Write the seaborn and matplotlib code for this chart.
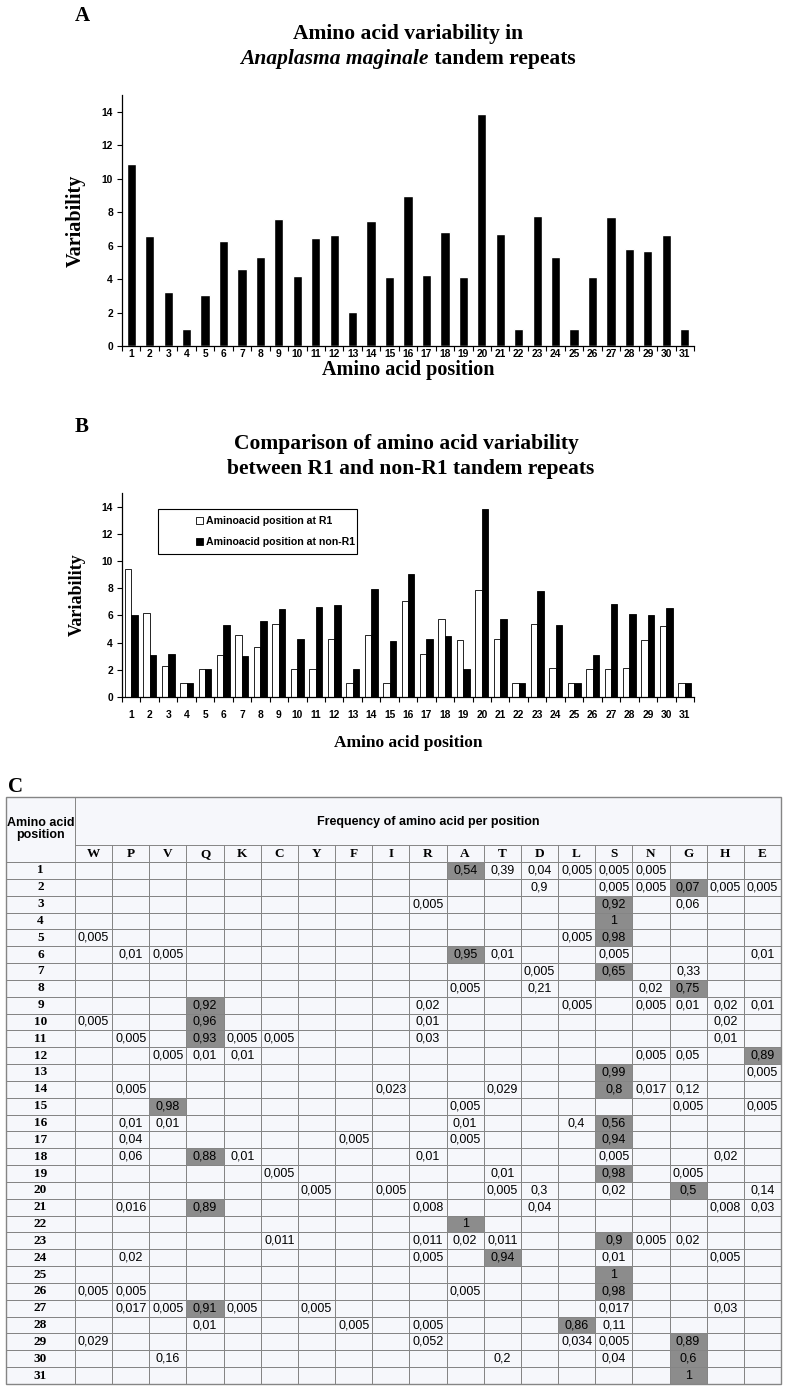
# Amino acid variability in tandem repeats - figure with panels A, B, C

import numpy as np
import pandas as pd
import matplotlib
matplotlib.use("Agg")
import matplotlib.pyplot as plt
import seaborn as sns
from matplotlib.colors import ListedColormap
from matplotlib.patches import Rectangle, Patch


# DATA

positions = list(range(1, 32))

# Panel A - variability over all repeats
variability_all = [
    10.9, 6.6, 3.25, 1.0, 3.05, 6.3, 4.6, 5.3, 7.6, 4.2,
    6.45, 6.65, 2.05, 7.5, 4.1, 8.95, 4.25, 6.8, 4.1, 13.85,
    6.7, 1.0, 7.75, 5.3, 1.0, 4.1, 7.7, 5.8, 5.7, 6.65, 1.0
]

# Panel B - R1 vs non-R1
variability_r1 = [
    9.4, 6.2, 2.25, 1.0, 2.05, 3.1, 4.55, 3.65, 5.4, 2.05,
    2.05, 4.3, 1.0, 4.55, 1.0, 7.05, 3.15, 5.75, 4.2, 7.85,
    4.25, 1.0, 5.4, 2.1, 1.0, 2.05, 2.05, 2.15, 4.2, 5.2, 1.0
]
variability_non_r1 = [
    6.05, 3.1, 3.15, 1.0, 2.05, 5.3, 3.05, 5.6, 6.5, 4.25,
    6.6, 6.8, 2.05, 7.95, 4.15, 9.05, 4.3, 4.45, 2.05, 13.85,
    5.75, 1.0, 7.8, 5.3, 1.0, 3.1, 6.85, 6.1, 6.05, 6.55, 1.0
]
series_labels = ["Aminoacid position at R1", "Aminoacid position at non-R1"]

# Panel C - frequency table
amino_acids = ["W", "P", "V", "Q", "K", "C", "Y", "F", "I", "R",
               "A", "T", "D", "L", "S", "N", "G", "H", "E"]

freq_by_position = [
    {"A": "0,54", "T": "0,39", "D": "0,04", "L": "0,005", "S": "0,005", "N": "0,005"},
    {"D": "0,9", "S": "0,005", "N": "0,005", "G": "0,07", "H": "0,005", "E": "0,005"},
    {"R": "0,005", "S": "0,92", "G": "0,06"},
    {"S": "1"},
    {"W": "0,005", "L": "0,005", "S": "0,98"},
    {"P": "0,01", "V": "0,005", "A": "0,95", "T": "0,01", "S": "0,005", "E": "0,01"},
    {"D": "0,005", "S": "0,65", "G": "0,33"},
    {"A": "0,005", "D": "0,21", "N": "0,02", "G": "0,75"},
    {"Q": "0,92", "R": "0,02", "L": "0,005", "N": "0,005", "G": "0,01", "H": "0,02", "E": "0,01"},
    {"W": "0,005", "Q": "0,96", "R": "0,01", "H": "0,02"},
    {"P": "0,005", "Q": "0,93", "K": "0,005", "C": "0,005", "R": "0,03", "H": "0,01"},
    {"V": "0,005", "Q": "0,01", "K": "0,01", "N": "0,005", "G": "0,05", "E": "0,89"},
    {"S": "0,99", "E": "0,005"},
    {"P": "0,005", "I": "0,023", "T": "0,029", "S": "0,8", "N": "0,017", "G": "0,12"},
    {"V": "0,98", "A": "0,005", "G": "0,005", "E": "0,005"},
    {"P": "0,01", "V": "0,01", "A": "0,01", "L": "0,4", "S": "0,56"},
    {"P": "0,04", "F": "0,005", "A": "0,005", "S": "0,94"},
    {"P": "0,06", "Q": "0,88", "K": "0,01", "R": "0,01", "S": "0,005", "H": "0,02"},
    {"C": "0,005", "T": "0,01", "S": "0,98", "G": "0,005"},
    {"Y": "0,005", "I": "0,005", "T": "0,005", "D": "0,3", "S": "0,02", "G": "0,5", "E": "0,14"},
    {"P": "0,016", "Q": "0,89", "R": "0,008", "D": "0,04", "H": "0,008", "E": "0,03"},
    {"A": "1"},
    {"C": "0,011", "R": "0,011", "A": "0,02", "T": "0,011", "S": "0,9", "N": "0,005", "G": "0,02"},
    {"P": "0,02", "R": "0,005", "T": "0,94", "S": "0,01", "H": "0,005"},
    {"S": "1"},
    {"W": "0,005", "P": "0,005", "A": "0,005", "S": "0,98"},
    {"P": "0,017", "V": "0,005", "Q": "0,91", "K": "0,005", "Y": "0,005", "S": "0,017", "H": "0,03"},
    {"Q": "0,01", "F": "0,005", "R": "0,005", "L": "0,86", "S": "0,11"},
    {"W": "0,029", "R": "0,052", "L": "0,034", "S": "0,005", "G": "0,89"},
    {"V": "0,16", "T": "0,2", "S": "0,04", "G": "0,6"},
    {"G": "1"},
]

# shaded (dominant) cell of every row
dominant_aa = ["A", "G", "S", "S", "S", "A", "S", "G", "Q", "Q",
               "Q", "E", "S", "S", "V", "S", "S", "Q", "S", "G",
               "Q", "A", "S", "T", "S", "S", "Q", "L", "G", "G", "G"]


# STYLE

sns.set_style("ticks", {
    "axes.edgecolor": "black",
    "xtick.color": "black",
    "ytick.color": "black",
    "text.color": "black",
    "axes.labelcolor": "black",
})
plt.rcParams["font.family"] = ["Liberation Sans", "DejaVu Sans"]

SERIF = "Liberation Serif"
SANS = "Liberation Sans"

W, H = 789, 1392
fig = plt.figure(figsize=(W / 100, H / 100), dpi=100, facecolor="white")


def px_axes(left, top, right, bottom):
    return fig.add_axes([left / W, 1 - bottom / H, (right - left) / W, (bottom - top) / H])


def px_text(x, y, s, **kw):
    return fig.text(x / W, 1 - y / H, s, **kw)


def style_bar_axes(ax, tick_pad, xlabel_pad, label_size_x, label_size_y):
    ax.set_ylim(0, 15)
    ax.set_xlim(-0.5, 30.5)
    ax.set_yticks(range(0, 15, 2))
    ax.set_xticks(range(31))
    ax.set_xticklabels([str(p) for p in positions])
    ax.set_xticks(np.arange(-0.5, 31, 1), minor=True)
    ax.tick_params(axis="x", which="major", length=0, pad=tick_pad)
    ax.tick_params(axis="x", which="minor", length=3.5, width=0.8, direction="out")
    ax.tick_params(axis="y", length=3.5, width=0.8, direction="out", pad=3)
    for lab in ax.get_xticklabels() + ax.get_yticklabels():
        lab.set_fontweight("bold")
        lab.set_fontsize(7.4)
        lab.set_fontfamily(SANS)
    sns.despine(ax=ax)
    for side in ["left", "bottom"]:
        ax.spines[side].set_linewidth(0.9)
    ax.set_xlabel("Amino acid position", fontfamily=SERIF, fontweight="bold",
                  fontsize=label_size_x, labelpad=xlabel_pad)
    ax.set_ylabel("Variability", fontfamily=SERIF, fontweight="bold", fontsize=label_size_y)
    ax.yaxis.set_label_coords(-0.063, 0.5)
    ax.set_facecolor("white")


def two_part_title(y, italic_part, rest, center_x, size):
    renderer = fig.canvas.get_renderer()
    t1 = px_text(0, y, italic_part, fontfamily=SERIF, fontweight="bold",
                 fontstyle="italic", fontsize=size, va="center", ha="left")
    t2 = px_text(0, y, rest, fontfamily=SERIF, fontweight="bold",
                 fontsize=size, va="center", ha="left")
    w1 = t1.get_window_extent(renderer).width
    w2 = t2.get_window_extent(renderer).width
    start = center_x - (w1 + w2) / 2
    t1.set_x(start / W)
    t2.set_x((start + w1) / W)


# PANEL A

px_text(75, 16, "A", fontfamily=SERIF, fontweight="bold", fontsize=15, va="center", ha="left")
px_text(408, 34, "Amino acid variability in", fontfamily=SERIF, fontweight="bold",
        fontsize=15.5, va="center", ha="center")
two_part_title(59, "Anaplasma maginale", " tandem repeats", 408, 15.5)

axA = px_axes(122, 95, 694, 346)

sns.barplot(
    x=positions,
    y=variability_all,
    color="black",
    saturation=1,
    width=0.5,
    ax=axA
)

style_bar_axes(axA, tick_pad=2, xlabel_pad=1, label_size_x=14.5, label_size_y=14.5)


# PANEL B

px_text(75, 427, "B", fontfamily=SERIF, fontweight="bold", fontsize=15, va="center", ha="left")
px_text(406, 444, "Comparison of amino acid variability", fontfamily=SERIF,
        fontweight="bold", fontsize=15.5, va="center", ha="center")
px_text(411, 469, "between R1 and non-R1 tandem repeats", fontfamily=SERIF,
        fontweight="bold", fontsize=15.5, va="center", ha="center")

df_b = pd.DataFrame({
    "position": positions * 2,
    "variability": variability_r1 + variability_non_r1,
    "series": [series_labels[0]] * 31 + [series_labels[1]] * 31
})

axB = px_axes(122, 493, 694, 697)

sns.barplot(
    data=df_b,
    x="position",
    y="variability",
    hue="series",
    palette=["white", "black"],
    saturation=1,
    edgecolor="black",
    linewidth=0.6,
    width=0.7,
    legend=False,
    ax=axB
)

style_bar_axes(axB, tick_pad=9, xlabel_pad=11, label_size_x=12.5, label_size_y=13)

# legend box
axB.add_patch(Rectangle((0.063, 0.70), 0.348, 0.223, transform=axB.transAxes,
                        fill=False, edgecolor="black", linewidth=0.8, clip_on=False))
handles = [
    Patch(facecolor="white", edgecolor="black", linewidth=0.6, label=series_labels[0]),
    Patch(facecolor="black", edgecolor="black", linewidth=0.6, label=series_labels[1]),
]
leg = axB.legend(
    handles=handles,
    loc="center left",
    bbox_to_anchor=(0.12, 0.81),
    frameon=False,
    handlelength=0.7,
    handleheight=0.7,
    handletextpad=0.3,
    labelspacing=1.0,
    borderpad=0,
    prop={"family": SANS, "weight": "bold", "size": 7.6}
)


# PANEL C - table

cell_bg = "#f6f7fb"
cell_hl = "#8c8c8c"
grid_col = "#858585"

annot_matrix = np.array([[row.get(aa, "") for aa in amino_acids] for row in freq_by_position])
hl_matrix = np.array([[1 if aa == dom else 0 for aa in amino_acids] for dom in dominant_aa])

tab_left, tab_top, tab_right, tab_bottom = 6, 797, 781, 1384
pos_right, head_mid, head_bottom = 75, 845, 862
col_w = (tab_right - pos_right) / len(amino_acids)

ax_cells = px_axes(pos_right, head_bottom, tab_right, tab_bottom)
sns.heatmap(
    pd.DataFrame(hl_matrix, index=positions, columns=amino_acids),
    annot=annot_matrix,
    fmt="",
    cmap=ListedColormap([cell_bg, cell_hl]),
    vmin=0,
    vmax=1,
    cbar=False,
    linewidths=0.7,
    linecolor=grid_col,
    xticklabels=False,
    yticklabels=False,
    annot_kws={"fontsize": 9, "color": "black", "family": SANS},
    ax=ax_cells
)

ax_pos = px_axes(tab_left, head_bottom, pos_right, tab_bottom)
sns.heatmap(
    np.zeros((len(positions), 1)),
    annot=np.array([[str(p)] for p in positions]),
    fmt="",
    cmap=ListedColormap([cell_bg]),
    vmin=0,
    vmax=1,
    cbar=False,
    linewidths=0.7,
    linecolor=grid_col,
    xticklabels=False,
    yticklabels=False,
    annot_kws={"fontsize": 9.5, "color": "black", "family": SERIF, "weight": "bold"},
    ax=ax_pos
)

# overlay in pixel coordinates for headers and borders
ax_over = px_axes(0, 0, W, H)
ax_over.set_xlim(0, W)
ax_over.set_ylim(H, 0)
ax_over.axis("off")

ax_over.add_patch(Rectangle((tab_left, tab_top), tab_right - tab_left, head_bottom - tab_top,
                            facecolor=cell_bg, edgecolor="none", zorder=0))
ax_over.add_patch(Rectangle((tab_left, tab_top), tab_right - tab_left, tab_bottom - tab_top,
                            fill=False, edgecolor=grid_col, linewidth=1.0, zorder=3))
ax_over.plot([pos_right, tab_right], [head_mid, head_mid], color=grid_col, lw=0.7)
ax_over.plot([tab_left, tab_right], [head_bottom, head_bottom], color=grid_col, lw=0.7)
ax_over.plot([pos_right, pos_right], [tab_top, tab_bottom], color=grid_col, lw=0.7)

for i, aa in enumerate(amino_acids):
    x0 = pos_right + i * col_w
    if i > 0:
        ax_over.plot([x0, x0], [head_mid, head_bottom], color=grid_col, lw=0.7)
    ax_over.text(x0 + col_w / 2, (head_mid + head_bottom) / 2 + 0.5, aa,
                 fontfamily=SERIF, fontweight="bold", fontsize=9.5,
                 ha="center", va="center")

ax_over.text((tab_left + pos_right) / 2, 829, "Amino acid\nposition",
             fontfamily=SANS, fontweight="bold", fontsize=9,
             ha="center", va="center", linespacing=1.1)
ax_over.text((pos_right + tab_right) / 2, 822, "Frequency of amino acid per position",
             fontfamily=SANS, fontweight="bold", fontsize=9, ha="center", va="center")

px_text(8, 787, "C", fontfamily=SERIF, fontweight="bold", fontsize=15, va="center", ha="left")

fig.savefig("out.png", dpi=100, facecolor="white")
